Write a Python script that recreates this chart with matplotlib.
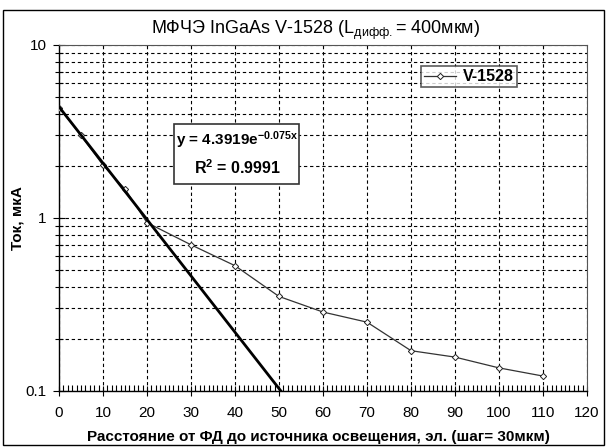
import numpy as np
import matplotlib
matplotlib.use("Agg")
import matplotlib.pyplot as plt
from matplotlib.ticker import FixedLocator, MultipleLocator, LogLocator, NullFormatter, FixedFormatter
from matplotlib.patches import Rectangle

plt.rcParams['font.family'] = ['Liberation Sans', 'DejaVu Sans']
plt.rcParams['mathtext.fontset'] = 'custom'
plt.rcParams['mathtext.rm'] = 'Liberation Sans'
plt.rcParams['mathtext.bf'] = 'Liberation Sans:bold'
plt.rcParams['mathtext.it'] = 'Liberation Sans:italic'

# Data
x_vals = [0, 5, 10, 15, 20, 30, 40, 50, 60, 70, 80, 90, 100, 110]
y_vals = [4.35, 3.0, 2.02, 1.47, 0.94, 0.70, 0.53, 0.352, 0.286, 0.25, 0.171, 0.157, 0.136, 0.122]
fit_a = 4.3919
fit_b = -0.075
series_name = "V-1528"
x_ticks = [0, 10, 20, 30, 40, 50, 60, 70, 80, 90, 100, 110, 120]
y_ticks = [0.1, 1, 10]
y_tick_labels = ["0.1", "1", "10"]

W, H = 608, 448
fig = plt.figure(figsize=(6.08, 4.48), dpi=100)
ax = fig.add_axes([59/W, 1-391/H, (587-59)/W, (391-45)/H])

# outer border
fig.patches.append(Rectangle((3/W, 1-445/H), 601/W, 435/H, transform=fig.transFigure,
                             fill=False, edgecolor='black', linewidth=1.0))

ax.set_yscale('log')
ax.set_xlim(0, 120)
ax.set_ylim(0.1, 10)

# grid
ax.xaxis.set_major_locator(FixedLocator(x_ticks))
ax.xaxis.set_minor_locator(MultipleLocator(1))
ax.yaxis.set_major_locator(FixedLocator(y_ticks))
ax.yaxis.set_major_formatter(FixedFormatter(y_tick_labels))
ax.yaxis.set_minor_locator(LogLocator(base=10, subs=np.arange(2, 10)))
ax.yaxis.set_minor_formatter(NullFormatter())
ax.grid(True, which='major', axis='x', color='black', linestyle=(0, (3, 2.5)), linewidth=0.8)
ax.grid(True, which='both', axis='y', color='black', linestyle=(0, (3, 2.5)), linewidth=0.8)
ax.set_axisbelow(True)

ax.tick_params(axis='x', which='major', direction='inout', length=7, width=0.8, labelsize=11, pad=7)
ax.tick_params(axis='x', which='minor', direction='in', length=4, width=0.8)
ax.tick_params(axis='y', which='major', direction='inout', length=8, width=0.8, labelsize=11, pad=5)
ax.tick_params(axis='y', which='minor', direction='inout', length=6, width=0.8)

for s in ['top', 'right']:
    ax.spines[s].set_color('#555555')
    ax.spines[s].set_linewidth(0.8)
for s in ['left', 'bottom']:
    ax.spines[s].set_linewidth(1.0)

# data
ax.plot(x_vals, y_vals, color='#333333', linewidth=0.9, marker='D', markersize=3.2,
        markerfacecolor='white', markeredgecolor='#222222', markeredgewidth=0.7, label=series_name, zorder=3)

# trendline
x_end = np.log(0.1 / fit_a) / fit_b
xt = np.linspace(0, x_end, 100)
ax.plot(xt, fit_a * np.exp(fit_b * xt), color='black', linewidth=2.0, zorder=4)

fig.text(316/W, 1-30/H, "МФЧЭ InGaAs V-1528 (L$_{\\mathregular{дифф.}}$= 400мкм)", fontsize=13,
         ha='center', va='center')
fig.text(318/W, 1-437/H, "Расстояние от ФД до источника освещения, эл. (шаг= 30мкм)", fontsize=11,
         fontweight='bold', ha='center', va='center')
fig.text(18/W, 1-218/H, "Ток, мкА", fontsize=11, fontweight='bold', ha='center', va='center',
         rotation=90)

# equation box
fig.patches.append(Rectangle((174/W, 1-184/H), 125/W, 60/H, transform=fig.transFigure,
                             facecolor='white', edgecolor='#333333', linewidth=1.2, zorder=5))
fig.text(237/W, 1-140/H, "y = 4.3919e$^{\\mathbf{-0.075x}}$", ha='center', va='center',
         fontsize=11, fontweight='bold', zorder=6)
fig.text(238/W, 1-168/H, "R$^{\\mathbf{2}}$ = 0.9991", ha='center', va='center',
         fontsize=11.5, fontweight='bold', zorder=6)

# legend
leg = ax.legend(loc='upper left', bbox_to_anchor=((421-59)/528, (391-66)/346), frameon=True,
                fancybox=False, edgecolor='#333333', prop={'weight': 'bold', 'size': 11.5},
                handlelength=2.0, handletextpad=0.4, borderpad=0.2, borderaxespad=0)
leg.get_frame().set_linewidth(1.2)

fig.savefig("out.png", dpi=100)
